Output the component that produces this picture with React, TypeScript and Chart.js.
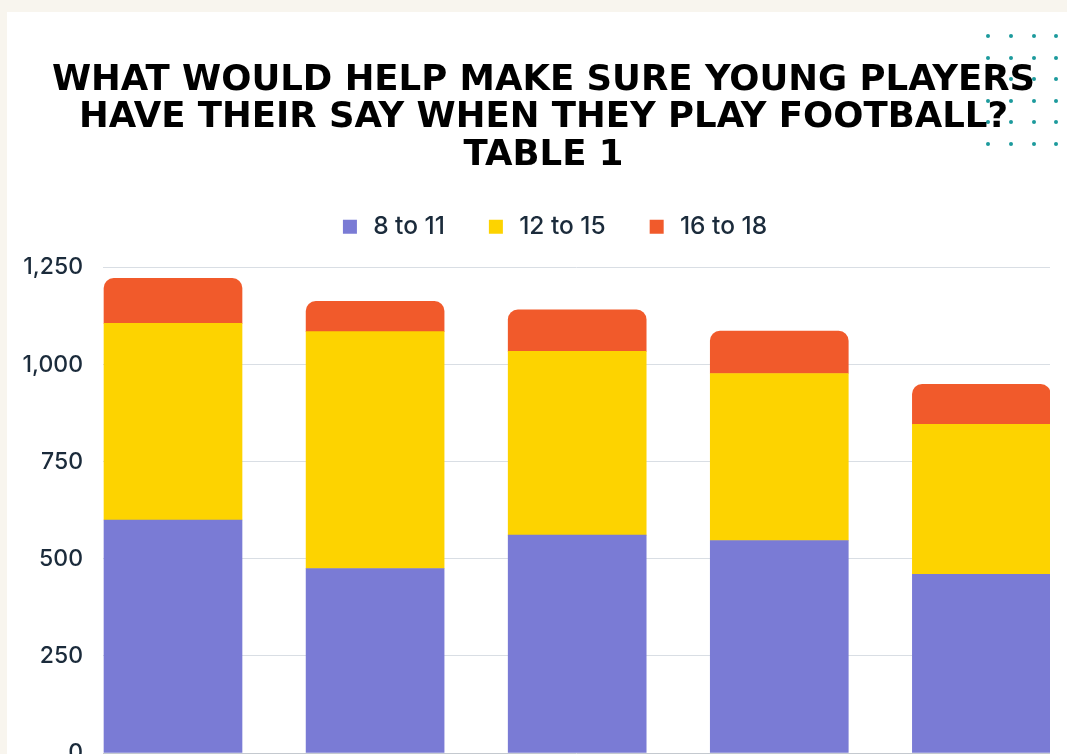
import React, { useEffect, useRef } from "react";
import { Chart, registerables } from "chart.js";

Chart.register(...registerables);

// Category labels sit below the visible crop of the reference, so they are not shown.
const categories = ["1", "2", "3", "4", "5"];
const seriesNames = ["8 to 11", "12 to 15", "16 to 18"];
const age8to11 = [600, 475, 561, 547, 460];
const age12to15 = [506, 610, 473, 430, 386];
const age16to18 = [116, 78, 107, 109, 103];
const yTickValues = [0, 250, 500, 750, 1000, 1250];
const titleLines = [
  "WHAT WOULD HELP MAKE SURE YOUNG PLAYERS",
  "HAVE THEIR SAY WHEN THEY PLAY FOOTBALL?",
  "TABLE 1",
];

const colors = ["#7a7bd5", "#fdd300", "#f15a2b"];

const dotsPlugin = {
  id: "dots",
  beforeDraw(chart: any) {
    const ctx = chart.ctx;
    ctx.save();
    ctx.fillStyle = "#1c9a9c";
    const xs = [988, 1011, 1034, 1056];
    const ys = [36, 58, 79, 101, 122, 144];
    for (const x of xs) {
      for (const y of ys) {
        ctx.beginPath();
        ctx.arc(x, y, 2, 0, Math.PI * 2);
        ctx.fill();
      }
    }
    ctx.restore();
  },
};

// Horizontal placement of the title and legend blocks (they are centred slightly right of the canvas centre)
const shiftPlugin = {
  id: "shiftBlocks",
  afterLayout(chart: any) {
    const t = chart.titleBlock;
    if (t) {
      t.left += 18.5;
      t.right += 18.5;
    }
    const l = chart.legend;
    if (l) {
      l.left += 28;
      l.right += 28;
    }
  },
};

export default function App() {
  const ref = useRef<HTMLCanvasElement | null>(null);

  useEffect(() => {
    if (!ref.current) return;
    const series = [age8to11, age12to15, age16to18];
    const chart = new Chart(ref.current, {
      type: "bar",
      data: {
        labels: categories,
        datasets: series.map((vals, si) => ({
          label: seriesNames[si],
          data: vals.map((v, i) => ({ x: i, y: v })),
          backgroundColor: colors[si],
          borderWidth: 0,
          barThickness: 138,
          borderRadius:
            si === 2
              ? { topLeft: 10, topRight: 10, bottomLeft: 0, bottomRight: 0 }
              : 0,
          borderSkipped: false,
        })),
      },
      options: {
        responsive: false,
        animation: false,
        layout: { padding: { left: 0, right: 17, top: 62, bottom: 47 } },
        plugins: {
          title: {
            display: true,
            text: titleLines,
            color: "#000000",
            font: { family: "'DejaVu Sans'", size: 35.5, weight: "bold", lineHeight: 1.0563 },
            padding: { top: 0, bottom: 0 },
          },
          subtitle: {
            display: true,
            text: "",
            weight: 500,
            font: { size: 1, lineHeight: 1 },
            padding: { top: 17.5, bottom: 0 },
          },
          legend: {
            display: true,
            position: "top",
            labels: {
              usePointStyle: true,
              pointStyle: "rect",
              boxWidth: 22,
              boxHeight: 14,
              padding: 40,
              color: "#1b2b3b",
              font: { family: "Inter", size: 24.5, weight: "500" },
            },
          },
          tooltip: { enabled: false },
        },
        scales: {
          x: {
            type: "linear",
            stacked: true,
            offset: false,
            min: -0.3464,
            max: 4.3396,
            display: false,
          },
          y: {
            stacked: true,
            min: 0,
            max: 1250,
            afterBuildTicks: (scale: any) => {
              scale.ticks = yTickValues.map((v) => ({ value: v }));
            },
            afterFit: (scale: any) => {
              scale.width = 103;
            },
            border: { display: false },
            grid: {
              drawTicks: false,
              color: (c: any) => (c.tick && c.tick.value === 0 ? "#c4c9cf" : "#d9dee4"),
              lineWidth: 1,
            },
            ticks: {
              padding: 20,
              color: "#1b2b3b",
              font: { family: "Inter", size: 23, weight: "500" },
            },
          },
        },
      },
      plugins: [dotsPlugin, shiftPlugin],
    } as any);
    return () => chart.destroy();
  }, []);

  return (
    <div
      style={{
        position: "fixed",
        left: 0,
        top: 0,
        width: 1067,
        height: 754,
        overflow: "hidden",
        background: "#f8f5ee",
      }}
    >
      <div
        style={{
          position: "absolute",
          left: 7,
          top: 12,
          width: 1100,
          height: 800,
          background: "#ffffff",
        }}
      />
      <canvas
        ref={ref}
        width={1067}
        height={800}
        style={{ position: "absolute", left: 0, top: 0, width: 1067, height: 800 }}
      />
    </div>
  );
}
